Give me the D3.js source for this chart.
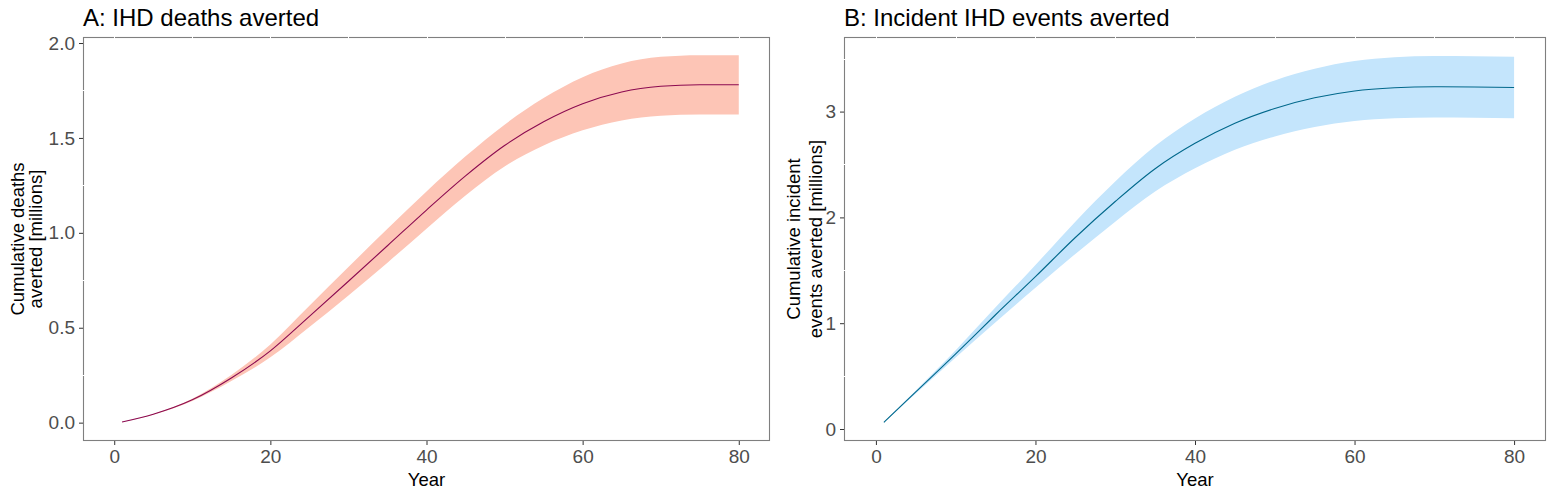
<!DOCTYPE html>
<html><head><meta charset="utf-8">
<script src="https://cdn.jsdelivr.net/npm/d3@7"></script>
<style>body{margin:0;background:#fff}svg{display:block;font-family:"Liberation Sans",Arial,sans-serif}</style>
</head><body><svg id="c" width="1554" height="497"></svg>
<script>
// Data
const yearsA = [1,5,10,15,20,25,30,35,40,45,50,55,60,65,70,75,80];
const meanA  = [0.003,0.044,0.12,0.235,0.378,0.56,0.745,0.932,1.12,1.30,1.46,1.585,1.68,1.742,1.772,1.78,1.78];
const lowerA = [0.003,0.042,0.114,0.219,0.344,0.504,0.67,0.843,1.022,1.197,1.35,1.46,1.54,1.592,1.617,1.624,1.624];
const upperA = [0.003,0.046,0.126,0.251,0.412,0.616,0.82,1.021,1.218,1.403,1.57,1.71,1.82,1.892,1.927,1.936,1.936];

const yearsB = [1,5,10,15,20,25,30,35,40,45,50,55,60,65,70,75,80];
const meanB  = [0.063,0.35,0.71,1.08,1.44,1.81,2.15,2.46,2.70,2.89,3.03,3.13,3.195,3.225,3.235,3.232,3.228];
const lowerB = [0.060,0.335,0.675,1.01,1.335,1.655,1.96,2.245,2.465,2.64,2.765,2.855,2.912,2.937,2.945,2.942,2.938];
const upperB = [0.066,0.365,0.745,1.15,1.55,1.96,2.34,2.675,2.935,3.14,3.295,3.405,3.478,3.513,3.525,3.522,3.518];

const xTicks = [0,20,40,60,80];
const yTicksA = [0,0.5,1.0,1.5,2.0];
const yTickLabelsA = ["0.0","0.5","1.0","1.5","2.0"];
const yTicksB = [0,1,2,3];
const yTickLabelsB = ["0","1","2","3"];

const titleA = "A: IHD deaths averted";
const titleB = "B: Incident IHD events averted";
const yTitleA = ["Cumulative deaths","averted [millions]"];
const yTitleB = ["Cumulative incident","events averted [millions]"];
const xTitle = "Year";

const svg = d3.select("#c");

function panel(o){
  const g = svg.append("g");
  const x = d3.scaleLinear().domain([-4,84]).range([o.left,o.right]);
  const y = d3.scaleLinear().domain(o.ydom).range([o.bottom,o.top]);
  const data = o.years.map((yr,i)=>({yr, m:o.mean[i], lo:o.lower[i], hi:o.upper[i]}));
  const curve = d3.curveMonotoneX;
  g.append("path").datum(data).attr("fill",o.fill)
    .attr("d", d3.area().curve(curve).x(d=>x(d.yr)).y0(d=>y(d.lo)).y1(d=>y(d.hi)));
  g.append("path").datum(data).attr("fill","none").attr("stroke",o.line).attr("stroke-width",1.1)
    .attr("d", d3.line().curve(curve).x(d=>x(d.yr)).y(d=>y(d.m)));
  // border
  g.append("rect").attr("x",o.left+0.5).attr("y",o.top+0.5)
    .attr("width",o.right-o.left-1).attr("height",o.bottom-o.top-1)
    .attr("fill","none").attr("stroke","#7f7f7f").attr("stroke-width",1.1);
  // white grid gaps crossing border
  d3.range(0,81,10).forEach(v=>{
    g.append("line").attr("x1",Math.round(x(v))+0.5).attr("x2",Math.round(x(v))+0.5)
      .attr("y1",o.top-1).attr("y2",o.top+2).attr("stroke","#fff").attr("stroke-width",1);
  });
  o.minorY.forEach(v=>{
    g.append("line").attr("y1",Math.round(y(v))+0.5).attr("y2",Math.round(y(v))+0.5)
      .attr("x1",o.left-1).attr("x2",o.left+2).attr("stroke","#fff").attr("stroke-width",1);
  });
  // axes
  const xa = g.append("g").attr("transform",`translate(0,${o.bottom})`)
    .call(d3.axisBottom(x).tickValues(xTicks).tickSize(4).tickPadding(5).tickFormat(d3.format("d")));
  xa.select(".domain").remove();
  xa.selectAll("line").attr("stroke","#333");
  xa.selectAll("text").attr("fill","#4d4d4d").style("font-size","19px").attr("dy","0.71em");
  const ya = g.append("g").attr("transform",`translate(${o.left},0)`)
    .call(d3.axisLeft(y).tickValues(o.yTicks).tickSize(4).tickPadding(4).tickFormat((d,i)=>o.yLabels[i]));
  ya.select(".domain").remove();
  ya.selectAll("line").attr("stroke","#333");
  ya.selectAll("text").attr("fill","#4d4d4d").style("font-size","19px");
  // titles
  g.append("text").attr("x",o.left).attr("y",26).text(o.title)
    .style("font-size","24px").attr("fill","#000");
  g.append("text").attr("x",(o.left+o.right)/2).attr("y",486).attr("text-anchor","middle")
    .text(xTitle).style("font-size","18.5px").attr("fill","#000");
  const cy = (o.top+o.bottom)/2;
  o.yTitle.forEach((t,i)=>{
    g.append("text").attr("transform",`translate(${o.yTitleX[i]},${cy}) rotate(-90)`)
      .attr("text-anchor","middle").text(t).style("font-size","18.5px").attr("fill","#000");
  });
}

panel({left:83,right:770,top:37,bottom:441,ydom:[-0.0967,2.0317],
  years:yearsA,mean:meanA,lower:lowerA,upper:upperA,fill:"#FDC5B6",line:"#8B0A50",
  yTicks:yTicksA,yLabels:yTickLabelsA,minorY:[0.25,0.75,1.25,1.75],
  title:titleA,yTitle:yTitleA,yTitleX:[23.5,41.5]});
panel({left:844,right:1546,top:37,bottom:441,ydom:[-0.1134,3.705],
  years:yearsB,mean:meanB,lower:lowerB,upper:upperB,fill:"#C4E5FC",line:"#00688B",
  yTicks:yTicksB,yLabels:yTickLabelsB,minorY:[0.5,1.5,2.5,3.5],
  title:titleB,yTitle:yTitleB,yTitleX:[800,821.5]});
</script></body></html>
